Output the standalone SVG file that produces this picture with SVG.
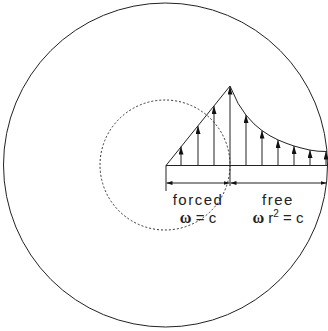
<svg xmlns="http://www.w3.org/2000/svg" width="328" height="331" viewBox="0 0 328 331">
<style>
.ln{stroke:#222;stroke-width:1;fill:none}
.dash{stroke:#333;stroke-width:1;fill:none;stroke-dasharray:2 2}
.lbl{font-family:"Liberation Sans",Arial,sans-serif;font-size:15px;fill:#222;letter-spacing:1.5px}
.om{font-family:"Liberation Serif","Times New Roman",serif;font-weight:bold;font-size:16px;fill:#222}
</style>
<defs>
<marker id="tri" markerUnits="userSpaceOnUse" markerWidth="8" markerHeight="5" refX="8" refY="2.5" orient="auto" viewBox="0 0 8 5">
<path d="M0,0 L8,2.5 L0,5 Z" fill="#111"/>
</marker>
<marker id="dim" markerUnits="userSpaceOnUse" markerWidth="6" markerHeight="4" refX="6" refY="2" orient="auto-start-reverse" viewBox="0 0 6 4">
<path d="M0,0 L6,2 L0,4 Z" fill="#111"/>
</marker>
</defs>
<g id="outer-circle"><circle class="ln" cx="165.5" cy="165" r="162"/></g>
<g id="inner-circle"><circle class="dash" cx="165" cy="165" r="65"/></g>
<g id="profile">
<path class="ln" d="M166,165.5 L230,86"/>
<polyline class="ln" points="230,86 238,103.3 246,115.1 254,123.9 262,130.6 270,135.8 278,139.9 286,143.2 294,146 302,148.2 310,150.1 318,151.2 327,151.5"/>
<path class="ln" d="M166,165.5 L327,165.5"/>
</g>
<g id="connectors">
<line class="ln" x1="181" y1="165.5" x2="181" y2="146.5" marker-end="url(#tri)"/>
<line class="ln" x1="198" y1="165.5" x2="198" y2="126" marker-end="url(#tri)"/>
<line class="ln" x1="214" y1="165.5" x2="214" y2="106" marker-end="url(#tri)"/>
<line class="ln" x1="230" y1="165.5" x2="230" y2="86.5" marker-end="url(#tri)"/>
<line class="ln" x1="230" y1="165.5" x2="230" y2="186"/>
<line class="ln" x1="246" y1="165.5" x2="246" y2="115" marker-end="url(#tri)"/>
<line class="ln" x1="262" y1="165.5" x2="262" y2="130.5" marker-end="url(#tri)"/>
<line class="ln" x1="278" y1="165.5" x2="278" y2="140" marker-end="url(#tri)"/>
<line class="ln" x1="294" y1="165.5" x2="294" y2="146" marker-end="url(#tri)"/>
<line class="ln" x1="310" y1="165.5" x2="310" y2="150" marker-end="url(#tri)"/>
<line class="ln" x1="326" y1="165.5" x2="326" y2="151.5" marker-end="url(#tri)"/>
<line class="ln" x1="166" y1="165.5" x2="166" y2="191"/>
<line class="ln" x1="166.5" y1="183" x2="229.5" y2="183" marker-start="url(#dim)" marker-end="url(#dim)"/>
<line class="ln" x1="230.5" y1="183" x2="326.5" y2="183" marker-start="url(#dim)" marker-end="url(#dim)"/>
</g>
<g id="labels">
<text class="lbl" x="198" y="205" text-anchor="middle">forced</text>
<text class="lbl" x="278" y="205" text-anchor="middle">free</text>
<text x="198" y="223" text-anchor="middle"><tspan class="om">ω</tspan><tspan class="lbl" style="letter-spacing:0"> = c</tspan></text>
<text x="278" y="223" text-anchor="middle"><tspan class="om">ω</tspan><tspan class="lbl" style="letter-spacing:0"> r</tspan><tspan class="lbl" style="letter-spacing:0;font-size:10px" dy="-6">2</tspan><tspan class="lbl" style="letter-spacing:0" dy="6"> = c</tspan></text>
</g>
</svg>
